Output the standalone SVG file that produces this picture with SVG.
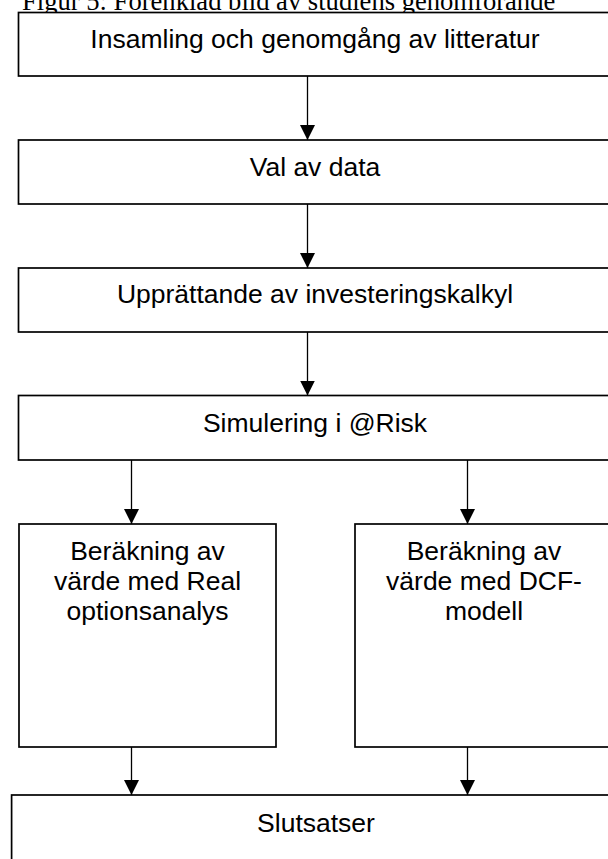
<svg xmlns="http://www.w3.org/2000/svg" width="608" height="859" viewBox="0 0 608 859">
  <style>
    .box { fill: #ffffff; stroke: #000000; stroke-width: 1.7; }
    .lbl { font-family: "Liberation Sans", Arial, sans-serif; font-size: 26.5px; fill: #000000; text-anchor: middle; }
    .cap { font-family: "Liberation Serif", "Times New Roman", serif; font-size: 26.6px; fill: #000000; }
    .conn { stroke: #000000; stroke-width: 1.3; fill: none; marker-end: url(#arrow); }
  </style>
  <defs>
    <marker id="arrow" markerUnits="userSpaceOnUse" markerWidth="15" markerHeight="15" refX="15" refY="7.5" orient="auto" viewBox="0 0 15 15">
      <path d="M0,0 L15,7.5 L0,15 Z" fill="#000000"/>
    </marker>
  </defs>
  <rect x="0" y="0" width="608" height="859" fill="#ffffff"/>
  <text class="cap" x="22" y="9.5">Figur 5: Förenklad bild av studiens genomförande</text>

  <g id="n1">
    <rect class="box" x="18.5" y="12.5" width="594" height="63.5"/>
    <text class="lbl" x="315" y="48.3">Insamling och genomgång av litteratur</text>
  </g>
  <g id="n2">
    <rect class="box" x="18.5" y="140" width="594" height="64"/>
    <text class="lbl" x="315" y="175.5">Val av data</text>
  </g>
  <g id="n3">
    <rect class="box" x="18.5" y="268" width="594" height="64"/>
    <text class="lbl" x="315" y="303">Upprättande av investeringskalkyl</text>
  </g>
  <g id="n4">
    <rect class="box" x="18.5" y="395.5" width="594" height="64.5"/>
    <text class="lbl" x="315" y="431.5">Simulering i @Risk</text>
  </g>
  <g id="n5">
    <rect class="box" x="19" y="524" width="257" height="223"/>
    <text class="lbl" x="147.5" y="560">Beräkning av</text>
    <text class="lbl" x="147.5" y="590">värde med Real</text>
    <text class="lbl" x="147.5" y="620">optionsanalys</text>
  </g>
  <g id="n6">
    <rect class="box" x="355" y="524" width="258" height="223"/>
    <text class="lbl" x="484" y="560">Beräkning av</text>
    <text class="lbl" x="484" y="590">värde med DCF-</text>
    <text class="lbl" x="484" y="620">modell</text>
  </g>
  <g id="n7">
    <rect class="box" x="11.6" y="795" width="610" height="80"/>
    <text class="lbl" x="316" y="832">Slutsatser</text>
  </g>

  <g id="connectors">
    <line class="conn" x1="307.5" y1="76" x2="307.5" y2="140"/>
    <line class="conn" x1="307.5" y1="204" x2="307.5" y2="268"/>
    <line class="conn" x1="307.5" y1="332" x2="307.5" y2="395.5"/>
    <line class="conn" x1="131.5" y1="460" x2="131.5" y2="524"/>
    <line class="conn" x1="467.5" y1="460" x2="467.5" y2="524"/>
    <line class="conn" x1="131.5" y1="747" x2="131.5" y2="795"/>
    <line class="conn" x1="467.5" y1="747" x2="467.5" y2="795"/>
  </g>
</svg>
